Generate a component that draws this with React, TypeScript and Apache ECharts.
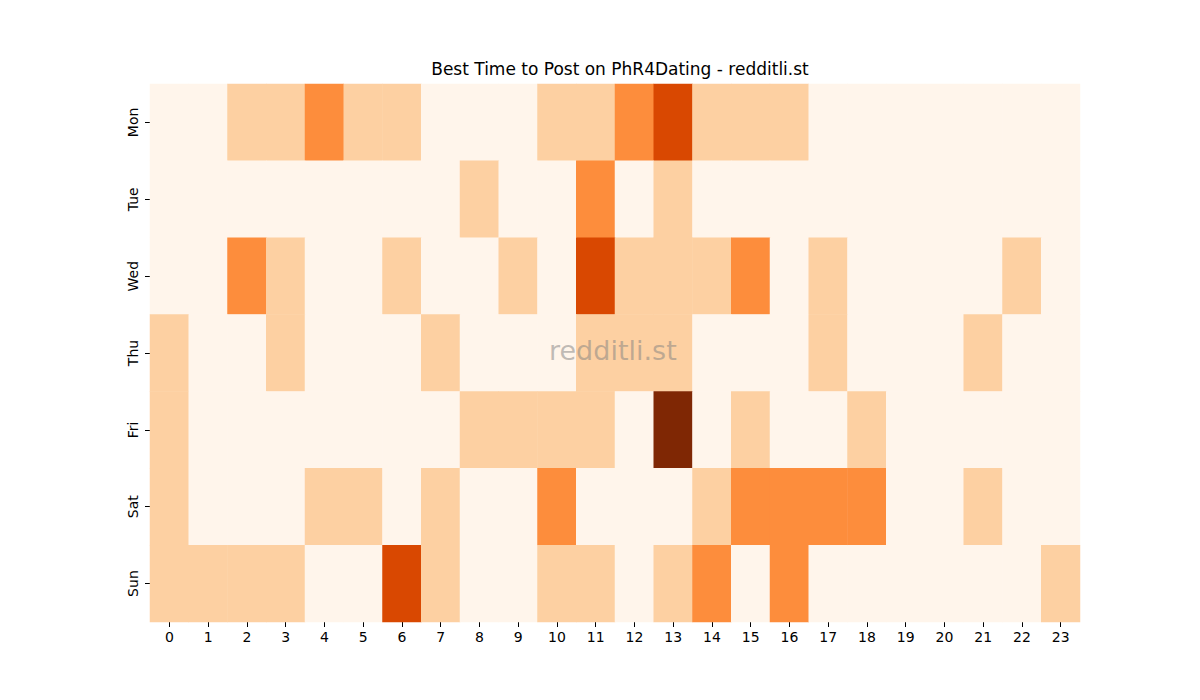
import React, { useEffect, useRef } from "react";
import * as echarts from "echarts";

const hours = Array.from({ length: 24 }, (_, i) => String(i));
const days = ["Mon", "Tue", "Wed", "Thu", "Fri", "Sat", "Sun"];

// activity level per hour, one row per day (0..4)
const mon = [0, 0, 1, 1, 2, 1, 1, 0, 0, 0, 1, 1, 2, 3, 1, 1, 1, 0, 0, 0, 0, 0, 0, 0];
const tue = [0, 0, 0, 0, 0, 0, 0, 0, 1, 0, 0, 2, 0, 1, 0, 0, 0, 0, 0, 0, 0, 0, 0, 0];
const wed = [0, 0, 2, 1, 0, 0, 1, 0, 0, 1, 0, 3, 1, 1, 1, 2, 0, 1, 0, 0, 0, 0, 1, 0];
const thu = [1, 0, 0, 1, 0, 0, 0, 1, 0, 0, 0, 1, 1, 1, 0, 0, 0, 1, 0, 0, 0, 1, 0, 0];
const fri = [1, 0, 0, 0, 0, 0, 0, 0, 1, 1, 1, 1, 0, 4, 0, 1, 0, 0, 1, 0, 0, 0, 0, 0];
const sat = [1, 0, 0, 0, 1, 1, 0, 1, 0, 0, 2, 0, 0, 0, 1, 2, 2, 2, 2, 0, 0, 1, 0, 0];
const sun = [1, 1, 1, 1, 0, 0, 3, 1, 0, 0, 1, 1, 0, 1, 2, 0, 2, 0, 0, 0, 0, 0, 0, 1];
const rows = [mon, tue, wed, thu, fri, sat, sun];

const levelColors = ["#fff5eb", "#fdd0a2", "#fd8d3c", "#d94801", "#7f2704"];

const font = "DejaVu Sans";

const App = () => {
  const chartRef = useRef<HTMLDivElement>(null);

  useEffect(() => {
    const chartDom = chartRef.current;
    if (!chartDom) return;
    const myChart = echarts.init(chartDom, null, { renderer: "svg" });

    const data: number[][] = [];
    rows.forEach((row, d) => row.forEach((v, h) => data.push([h, d, v])));

    myChart.setOption({
      animation: false,
      title: {
        text: "Best Time to Post on PhR4Dating - redditli.st",
        left: 615,
        textAlign: "center",
        top: 55,
        textStyle: { fontFamily: font, fontSize: 17, fontWeight: "normal", color: "#000" },
      },
      grid: { left: 150, right: 120, top: 84, bottom: 78 },
      xAxis: {
        type: "category",
        data: hours,
        axisLine: { show: false },
        axisTick: { show: true, alignWithLabel: true, length: 5, lineStyle: { color: "#000" } },
        axisLabel: { fontFamily: font, fontSize: 14, color: "#000", margin: 8 },
        splitArea: { show: false },
      },
      yAxis: {
        type: "category",
        data: days,
        inverse: true,
        axisLine: { show: false },
        axisTick: { show: true, alignWithLabel: true, length: 5, lineStyle: { color: "#000" } },
        axisLabel: { fontFamily: font, fontSize: 14, color: "#000", rotate: 90, margin: 10 },
        splitArea: { show: false },
      },
      visualMap: {
        show: false,
        type: "piecewise",
        dimension: 2,
        pieces: levelColors.map((c, i) => ({ value: i, color: c })),
      },
      graphic: [
        {
          type: "text",
          left: 615 - 66,
          top: 337,
          z: 100,
          style: {
            text: "redditli.st",
            fontFamily: font,
            fontSize: 27,
            fill: "rgba(128,128,128,0.5)",
          },
        },
      ],
      series: [
        {
          type: "heatmap",
          data,
          itemStyle: { borderWidth: 0 },
          emphasis: { disabled: true },
        },
      ],
    });

    const onResize = () => myChart.resize();
    window.addEventListener("resize", onResize);
    return () => {
      window.removeEventListener("resize", onResize);
      myChart.dispose();
    };
  }, []);

  return <div ref={chartRef} style={{ width: 1200, height: 700, margin: -8 }}></div>;
};

export default App;
